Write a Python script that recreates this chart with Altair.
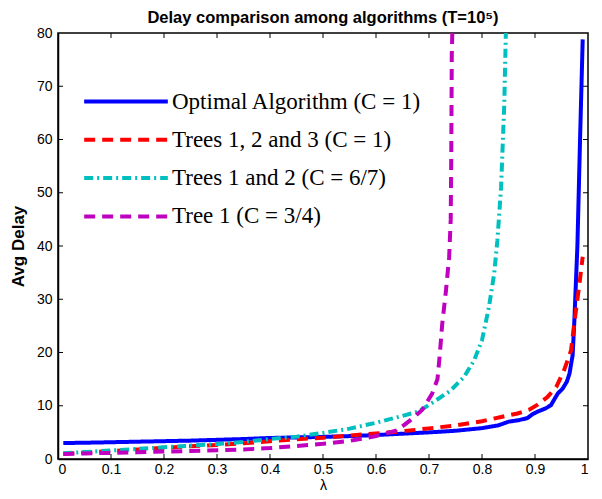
import altair as alt
import pandas as pd

# ---- data ----
names = [
    "Optimal Algorithm (C = 1)",
    "Trees 1, 2 and 3 (C = 1)",
    "Trees 1 and 2 (C = 6/7)",
    "Tree 1 (C = 3/4)",
]
colors = ["#0000FF", "#FF0000", "#00BFBF", "#BF00BF"]
dashes = [[1, 0], [11, 7], [9, 4, 2, 4], [11, 7]]

lam_opt = [0.01, 0.05, 0.1, 0.15, 0.2, 0.25, 0.3, 0.35, 0.4, 0.45, 0.5, 0.55, 0.6,
           0.65, 0.7, 0.75, 0.8, 0.83, 0.85, 0.87, 0.886, 0.895, 0.905, 0.92, 0.93,
           0.94, 0.943, 0.952, 0.96, 0.965, 0.971, 0.974, 0.98, 0.985, 0.99]
delay_opt = [3.0, 3.05, 3.15, 3.25, 3.35, 3.45, 3.6, 3.75, 3.95, 4.05, 4.15, 4.3, 4.5,
             4.75, 5.0, 5.3, 5.8, 6.3, 7.0, 7.3, 7.7, 8.4, 8.9, 9.5, 10.1,
             11.8, 12.3, 13.2, 14.5, 16.0, 19.5, 25.4, 40.0, 60.0, 78.8]

lam_t123 = [0.01, 0.05, 0.1, 0.15, 0.2, 0.25, 0.3, 0.35, 0.4, 0.45, 0.5, 0.55, 0.6,
            0.65, 0.7, 0.75, 0.8, 0.836, 0.867, 0.89, 0.905, 0.924, 0.94, 0.955,
            0.968, 0.974, 0.984, 0.99]
delay_t123 = [1.0, 1.2, 1.5, 1.8, 2.1, 2.4, 2.65, 2.95, 3.35, 3.7, 4.0, 4.4, 4.8,
              5.2, 5.75, 6.3, 7.1, 7.9, 8.55, 9.3, 10.2, 11.7, 13.5, 16.7,
              20.4, 25.4, 33.0, 38.0]

lam_t12 = [0.01, 0.05, 0.1, 0.15, 0.2, 0.25, 0.3, 0.35, 0.4, 0.45, 0.5, 0.55, 0.6,
           0.65, 0.68, 0.71, 0.74, 0.766, 0.785, 0.8, 0.813, 0.823, 0.829, 0.836,
           0.842, 0.845]
delay_t12 = [1.1, 1.3, 1.6, 1.9, 2.2, 2.5, 2.8, 3.2, 3.75, 4.2, 4.9, 5.7, 6.8,
             8.1, 8.9, 10.8, 12.8, 15.4, 18.5, 22.3, 28.5, 34.8, 41.0, 51.0,
             66.6, 80.0]

lam_t1 = [0.01, 0.05, 0.1, 0.15, 0.2, 0.25, 0.3, 0.35, 0.4, 0.45, 0.5, 0.55, 0.6,
          0.64, 0.665, 0.687, 0.706, 0.716, 0.72, 0.725, 0.732, 0.738, 0.741,
          0.742, 0.743, 0.744]
delay_t1 = [0.95, 1.05, 1.15, 1.25, 1.4, 1.5, 1.65, 1.8, 2.05, 2.45, 2.85, 3.4, 4.3,
            5.4, 7.3, 9.2, 12.3, 15.0, 19.2, 25.4, 31.6, 37.9, 45.0,
            57.0, 76.0, 80.0]

x_ticks = [0, 0.1, 0.2, 0.3, 0.4, 0.5, 0.6, 0.7, 0.8, 0.9, 1]
y_ticks = [0, 10, 20, 30, 40, 50, 60, 70, 80]

rows = []
for nm, xs_, ys_ in zip(names, [lam_opt, lam_t123, lam_t12, lam_t1],
                        [delay_opt, delay_t123, delay_t12, delay_t1]):
    for a, b in zip(xs_, ys_):
        rows.append({"lam": a, "delay": b, "alg": nm})
df = pd.DataFrame(rows)

W, H = 530, 426
xsc = alt.Scale(domain=[0, 1], nice=False, zero=False)
ysc = alt.Scale(domain=[0, 80], nice=False)

leg = alt.Legend(
    title=None, orient="none", legendX=24, legendY=57, padding=0,
    labelFont="Liberation Serif", labelFontSize=23, labelColor="black",
    symbolType="stroke", symbolSize=7000, symbolStrokeWidth=4,
    labelOffset=2, clipHeight=23, rowPadding=14.3, labelLimit=400,
)

lines = alt.Chart(df).mark_line(strokeWidth=4, clip=True).encode(
    x=alt.X("lam:Q", scale=xsc,
            axis=alt.Axis(title="λ", values=x_ticks, format="~g", ticks=False,
                          labelPadding=3, titlePadding=2, titleFontSize=14,
                          titleFontWeight="normal")),
    y=alt.Y("delay:Q", scale=ysc,
            axis=alt.Axis(title="Avg Delay", values=y_ticks, ticks=False,
                          labelPadding=6, titlePadding=9, titleFontSize=17,
                          titleFontWeight="bold")),
    color=alt.Color("alg:N", scale=alt.Scale(domain=names, range=colors),
                    sort=names, legend=leg),
    strokeDash=alt.StrokeDash("alg:N", scale=alt.Scale(domain=names, range=dashes),
                              sort=names, legend=leg),
)

xt = pd.DataFrame({"lam": x_ticks[1:-1]})
yt = pd.DataFrame({"delay": y_ticks[1:-1]})
tb = alt.Chart(xt).mark_rule(color="black", strokeWidth=1).encode(
    x=alt.X("lam:Q", scale=xsc), y=alt.value(H), y2=alt.value(H - 5))
tt = alt.Chart(xt).mark_rule(color="black", strokeWidth=1).encode(
    x=alt.X("lam:Q", scale=xsc), y=alt.value(0), y2=alt.value(5))
tl = alt.Chart(yt).mark_rule(color="black", strokeWidth=1).encode(
    y=alt.Y("delay:Q", scale=ysc), x=alt.value(0), x2=alt.value(5))
tr = alt.Chart(yt).mark_rule(color="black", strokeWidth=1).encode(
    y=alt.Y("delay:Q", scale=ysc), x=alt.value(W), x2=alt.value(W - 5))

chart = alt.layer(lines, tb, tt, tl, tr).properties(
    width=W, height=H,
    background="white",
    title=alt.TitleParams("Delay comparison among algorithms (T=10⁵)",
                          font="Liberation Sans", fontSize=16.5, fontWeight="bold",
                          anchor="middle", offset=0, color="black"),
    autosize=alt.AutoSizeParams(type="none"),
    padding={"left": 50, "top": 25, "right": 4, "bottom": 33},
).configure_view(stroke="black", strokeWidth=1.5).configure_axis(
    labelFont="Liberation Sans", labelFontSize=14, labelColor="black",
    titleFont="Liberation Sans", titleColor="black",
    domainColor="black", domainWidth=1.5, grid=False,
)

chart.save("out.html", embed_options={"renderer": "svg", "actions": False})
